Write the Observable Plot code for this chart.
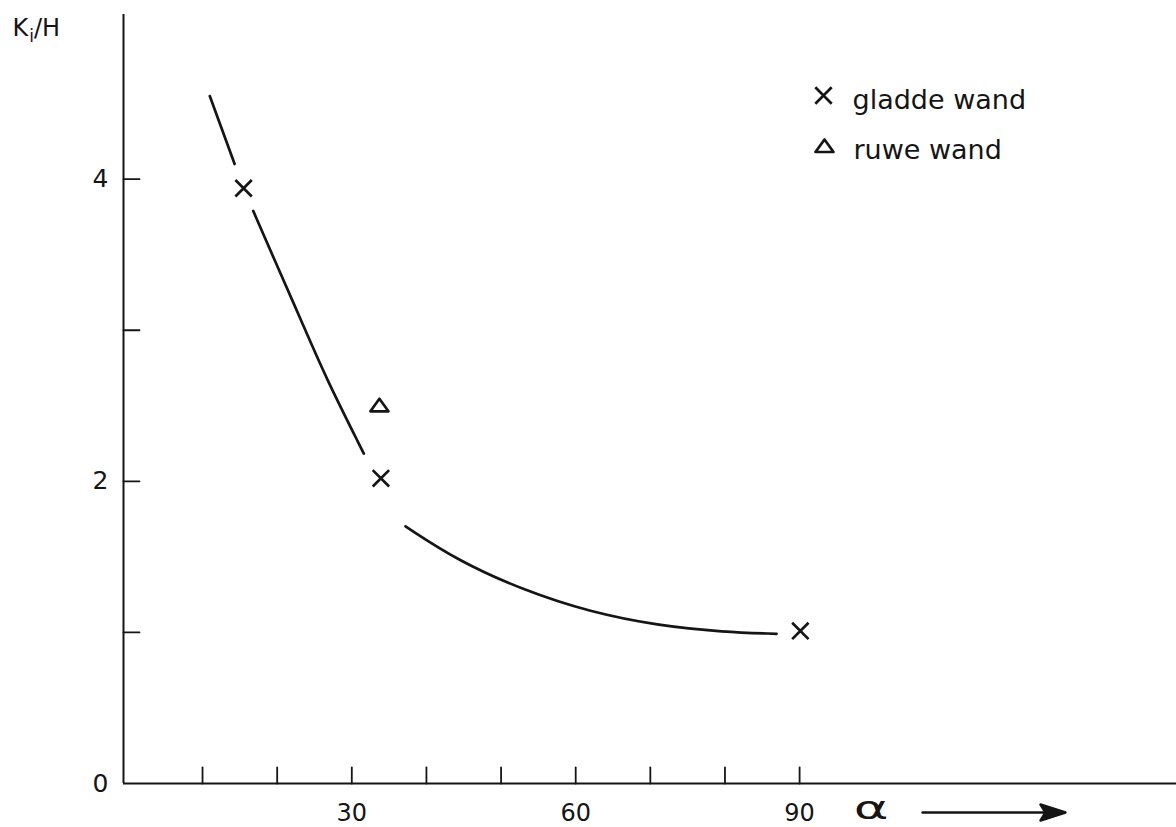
<!DOCTYPE html>
<html>
<head>
<meta charset="utf-8">
<script src="https://cdn.jsdelivr.net/npm/d3@7"></script>
<script src="https://cdn.jsdelivr.net/npm/@observablehq/plot@0.6"></script>
<style>
  html, body { margin: 0; padding: 0; background: #fff; }
  #chart svg { display: block; }
</style>
</head>
<body>
<div id="chart"></div>
<script>
// ---- data ----
// fitted curve, drawn in three pieces (broken around the markers)
const curveSegment = [1, 1, 2, 2, 2, 2, 2, 3, 3, 3, 3, 3, 3, 3];
const curveAlpha   = [10.97, 14.3, 16.79, 19.78, 23.27, 26.48, 31.61, 37.2, 44.13, 53.05, 61.99, 70.93, 79.85, 86.91];
const curveKiH     = [4.55, 4.10, 3.79, 3.45, 3.06, 2.689, 2.184, 1.702, 1.477, 1.278, 1.134, 1.046, 1.002, 0.991];

// measured points
const gladdeAlpha = [15.5, 33.9, 90.1];
const gladdeKiH   = [3.94, 2.02, 1.01];
const ruweAlpha   = [33.7];
const ruweKiH     = [2.50];

// ticks
const xTickValues = [10, 20, 30, 40, 50, 60, 70, 80, 90];
const xTickLabels = [30, 60, 90];
const yTickValues = [1, 2, 3, 4];
const yTickLabels = [0, 2, 4];

// texts
const yTitle = "Ki/H";
const xTitle = "\u03B1";
const legendLabels = ["gladde wand", "ruwe wand"];

// ---- build ----
const curve = curveAlpha.map((a, i) => ({alpha: a, k: curveKiH[i], seg: curveSegment[i]}));
const gladde = gladdeAlpha.map((a, i) => ({alpha: a, k: gladdeKiH[i]}));
const ruwe = ruweAlpha.map((a, i) => ({alpha: a, k: ruweKiH[i]}));

const xDomain = [-0.59, 140.5];
const yDomain = [0, 5.09];
const ink = "#151515";

const tickShape = {draw(ctx, l) { ctx.moveTo(0, 0); ctx.lineTo(0, -l); }};
const arrowShape = {draw(ctx, l) {
  ctx.moveTo(0, 0); ctx.lineTo(0, -l + 18);
  ctx.moveTo(0, -l); ctx.lineTo(8, -l + 25); ctx.lineTo(0, -l + 20); ctx.lineTo(-8, -l + 25); ctx.closePath();
}};
const flatTriangle = {draw(ctx, size) {
  ctx.moveTo(0, -7); ctx.lineTo(9, 5.5); ctx.lineTo(-9, 5.5); ctx.closePath();
}};

const chart = Plot.plot({
  width: 1176,
  height: 827,
  marginLeft: 123,
  marginRight: 0,
  marginTop: 14,
  marginBottom: 44,
  style: {fontFamily: "DejaVu Sans", fontSize: "24px", background: "#fff", color: ink},
  x: {domain: xDomain},
  y: {domain: yDomain},
  marks: [
    // axis lines
    Plot.ruleY([0], {stroke: ink, strokeWidth: 2}),
    Plot.ruleX([xDomain[0]], {stroke: ink, strokeWidth: 2}),
    // inward ticks
    Plot.vector(xTickValues, {x: d => d, y: 0, length: 16, rotate: 0, anchor: "start", shape: tickShape, stroke: ink, strokeWidth: 1.8}),
    Plot.vector(yTickValues, {x: xDomain[0], y: d => d, length: 16, rotate: 90, anchor: "start", shape: tickShape, stroke: ink, strokeWidth: 1.8}),
    // tick labels
    Plot.axisX({ticks: xTickLabels, tickSize: 0, tickPadding: 20, tickFormat: d => String(d), label: null, fontSize: 24, fill: ink, letterSpacing: "0.8px"}),
    Plot.axisY({ticks: yTickLabels, tickSize: 0, tickPadding: 15, tickFormat: d => String(d), label: null, fontSize: 25, fill: ink}),
    // fitted curve
    Plot.line(curve, {x: "alpha", y: "k", z: "seg", curve: "basis", stroke: ink, strokeWidth: 2.7}),
    // points
    Plot.dot(gladde, {x: "alpha", y: "k", symbol: "times", r: 7.5, stroke: ink, strokeWidth: 2.7}),
    Plot.dot(ruwe, {x: "alpha", y: "k", symbol: flatTriangle, stroke: ink, strokeWidth: 2.7, strokeLinejoin: "round"}),
    // axis titles
    Plot.text([yTitle], {frameAnchor: "top-left", dx: -111, dy: 4, textAnchor: "start", fontSize: 24, fill: ink, letterSpacing: "1.5px"}),
    Plot.text([xTitle], {frameAnchor: "bottom-left", dx: 737, dy: 35, fontSize: 32, fill: ink}),
    Plot.vector([0], {frameAnchor: "bottom-left", dx: 799, dy: 29, length: 143, rotate: 90, anchor: "start", shape: arrowShape, stroke: ink, fill: ink, strokeWidth: 2.4}),
    // legend
    Plot.dot([legendLabels[0]], {frameAnchor: "top-left", dx: 700, dy: 81, symbol: "times", r: 7.5, stroke: ink, strokeWidth: 2.7}),
    Plot.dot([legendLabels[1]], {frameAnchor: "top-left", dx: 701, dy: 132, symbol: flatTriangle, stroke: ink, strokeWidth: 2.7, strokeLinejoin: "round"}),
    Plot.text([legendLabels[0]], {frameAnchor: "top-left", dx: 729, dy: 75, textAnchor: "start", fontSize: 27, fill: ink, letterSpacing: "0.5px"}),
    Plot.text([legendLabels[1]], {frameAnchor: "top-left", dx: 730, dy: 125, textAnchor: "start", fontSize: 27, fill: ink, letterSpacing: "1.9px"})
  ]
});

document.getElementById("chart").appendChild(chart);

// subscript i in Ki/H; stretch the alpha horizontally like the lettering
d3.select(chart).selectAll("text").each(function() {
  if (this.textContent === yTitle) {
    const t = d3.select(this);
    t.text(null);
    t.append("tspan").text("K");
    t.append("tspan").attr("font-size", 17).attr("dy", 6).attr("dx", 1).text("i");
    t.append("tspan").attr("dy", -6).text("/H");
  } else if (this.textContent === xTitle) {
    const wrap = document.createElementNS("http://www.w3.org/2000/svg", "g");
    this.parentNode.insertBefore(wrap, this);
    wrap.appendChild(this);
    const b = wrap.getBBox();
    const cx = b.x + b.width / 2;
    wrap.setAttribute("transform", `translate(${cx},0) scale(1.65,1) translate(${-cx},0)`);
  }
});
</script>
</body>
</html>
